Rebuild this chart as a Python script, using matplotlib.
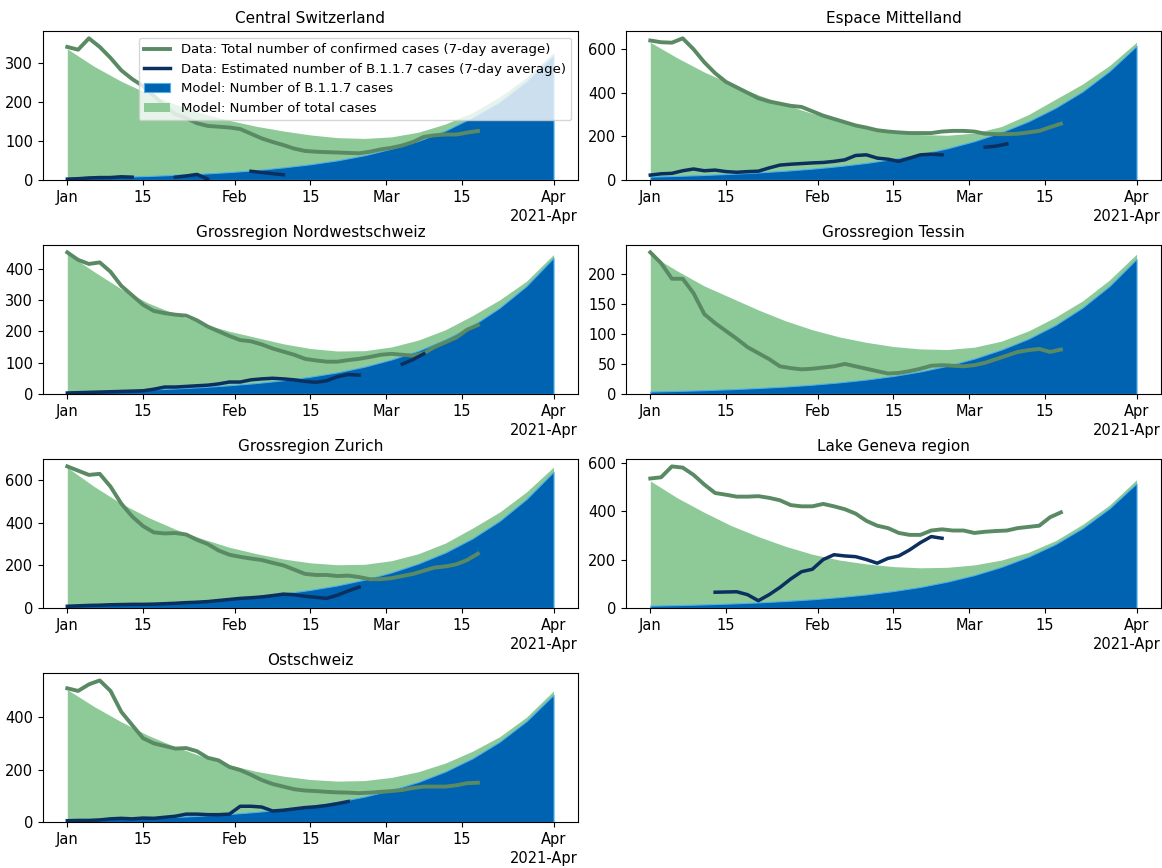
import numpy as np
import matplotlib
matplotlib.use("Agg")
import matplotlib.pyplot as plt
import matplotlib.dates as mdates

regions = ["Central Switzerland", "Espace Mittelland", "Grossregion Nordwestschweiz",
           "Grossregion Tessin", "Grossregion Zurich", "Lake Geneva region", "Ostschweiz"]

# days after 2021-01-01
data_days = list(range(0, 77, 2))
model_days = list(range(0, 91, 5))
nan = np.nan

# data: total confirmed cases (7-day average)
total_cs = [340, 333, 362, 340, 312, 280, 258, 240, 215, 190, 168, 158, 145, 138, 136, 134, 130, 118, 106, 97,
            89, 80, 74, 72, 71, 70, 69, 68, 72, 78, 82, 88, 97, 110, 114, 116, 116, 121, 125]
total_em = [640, 632, 630, 650, 600, 540, 490, 450, 425, 400, 375, 360, 350, 340, 335, 315, 295, 280, 265, 250,
            240, 228, 222, 218, 215, 215, 215, 222, 225, 225, 222, 212, 210, 210, 212, 218, 225, 242, 258]
total_nw = [452, 428, 415, 420, 390, 345, 315, 285, 265, 258, 253, 250, 235, 215, 200, 185, 172, 168, 158, 145,
            135, 125, 112, 107, 103, 103, 108, 112, 118, 125, 128, 125, 122, 130, 150, 165, 180, 205, 220]
total_ti = [236, 218, 192, 192, 168, 133, 118, 105, 92, 78, 68, 58, 46, 43, 41, 42, 44, 46, 50, 46,
            42, 38, 34, 35, 38, 42, 47, 48, 47, 46, 48, 52, 58, 64, 70, 73, 75, 70, 74]
total_zh = [665, 645, 625, 630, 570, 490, 430, 385, 355, 350, 352, 345, 320, 300, 270, 250, 240, 232, 225, 212,
            200, 180, 160, 155, 155, 150, 152, 145, 135, 135, 140, 150, 160, 175, 190, 195, 205, 225, 255]
total_ge = [535, 540, 585, 580, 550, 510, 475, 468, 460, 460, 462, 455, 445, 425, 420, 420, 430, 420, 408, 390,
            360, 340, 330, 310, 302, 302, 320, 325, 320, 320, 310, 315, 318, 320, 330, 335, 340, 375, 395]
total_os = [510, 500, 525, 540, 500, 420, 370, 320, 300, 290, 280, 282, 270, 245, 235, 210, 198, 180, 160, 145,
            135, 125, 120, 118, 115, 113, 112, 110, 112, 115, 118, 122, 130, 135, 135, 135, 140, 148, 150]

# data: estimated B.1.1.7 cases (7-day average)
b117_cs = [2, 3, 5, 6, 6, 8, 7, nan, nan, nan, 7, 10, 14, 2, nan, nan, nan, 22, 19, 16,
           13] + [nan] * 18
b117_em = [22, 28, 30, 42, 50, 42, 45, 38, 35, 38, 40, 55, 68, 72, 75, 78, 80, 85, 92, 112,
           115, 100, 95, 85, 100, 115, 118, 115, nan, nan, nan, 150, 155, 165] + [nan] * 5
b117_nw = [3, 4, 5, 6, 7, 8, 9, 10, 15, 22, 22, 24, 26, 28, 32, 38, 38, 45, 48, 50,
           48, 45, 40, 37, 42, 55, 62, 60, nan, nan, nan, 95, 110, 128] + [nan] * 5
b117_ti = [nan] * 39
b117_zh = [8, 10, 12, 13, 15, 16, 17, 17, 18, 20, 22, 25, 27, 30, 35, 40, 45, 48, 52, 58,
           65, 62, 55, 50, 45, 60, 80, 98] + [nan] * 11
b117_ge = [nan] * 6 + [65, 66, 67, 55, 30, 55, 85, 120, 150, 160, 200, 220, 215, 212, 200, 185,
                       205, 215, 240, 270, 295, 288] + [nan] * 11
b117_os = [5, 6, 6, 8, 12, 14, 12, 15, 14, 18, 22, 30, 30, 28, 28, 30, 60, 60, 57, 42,
           45, 50, 55, 58, 63, 70, 78] + [nan] * 12

# model: total cases
mtot_cs = [335, 290, 252, 220, 193, 170, 152, 137, 125, 115, 108, 106, 110, 122, 143, 172, 212, 262, 325]
mtot_em = [632, 560, 495, 440, 390, 345, 305, 272, 245, 222, 208, 205, 215, 245, 300, 370, 440, 525, 632]
mtot_nw = [448, 390, 335, 290, 255, 225, 200, 180, 160, 145, 137, 138, 150, 172, 205, 250, 300, 360, 445]
mtot_ti = [232, 205, 180, 160, 140, 122, 107, 95, 86, 79, 75, 74, 78, 88, 105, 128, 155, 190, 233]
mtot_zh = [660, 570, 490, 425, 370, 325, 285, 255, 230, 212, 203, 205, 222, 255, 305, 375, 450, 545, 662]
mtot_ge = [525, 455, 395, 340, 295, 255, 222, 198, 182, 171, 166, 168, 178, 198, 230, 278, 345, 425, 530]
mtot_os = [505, 440, 382, 330, 287, 250, 218, 193, 175, 162, 156, 158, 170, 192, 225, 270, 325, 400, 500]

# model: B.1.1.7 cases
mb_cs = [5, 6.5, 8, 10, 13, 16, 20, 25, 32, 40, 50, 63, 80, 100, 126, 160, 200, 253, 320]
mb_em = [15, 18.4, 22.7, 27.9, 34.2, 42.1, 51.7, 63.5, 78, 96, 118, 145, 178, 219, 269, 331, 406, 500, 615]
mb_nw = [7, 8.8, 11, 13.9, 17.5, 22, 27.7, 34.8, 43.8, 55, 69, 87, 110, 138, 174, 218, 275, 345, 435]
mb_ti = [4, 5, 6.3, 7.9, 9.9, 12.3, 15.4, 19.3, 24, 30, 37.5, 47, 59, 74, 92, 115, 144, 180, 225]
mb_zh = [11, 14, 17.7, 22, 27.7, 34.7, 43, 54, 68, 85, 106, 133, 167, 209, 261, 327, 409, 512, 640]
mb_ge = [9.5, 11.9, 14.8, 18.5, 23, 28.8, 36, 45, 56, 70, 87, 109, 136, 170, 212, 264, 330, 412, 515]
mb_os = [7.7, 9.7, 12.2, 15.3, 19.3, 24.3, 30.6, 38.5, 48.5, 61, 77, 97, 122, 153, 193, 243, 306, 385, 485]

totals = [total_cs, total_em, total_nw, total_ti, total_zh, total_ge, total_os]
b117s = [b117_cs, b117_em, b117_nw, b117_ti, b117_zh, b117_ge, b117_os]
mtots = [mtot_cs, mtot_em, mtot_nw, mtot_ti, mtot_zh, mtot_ge, mtot_os]
mbs = [mb_cs, mb_em, mb_nw, mb_ti, mb_zh, mb_ge, mb_os]

start = np.datetime64("2021-01-01")
t_data = start + np.array(data_days, dtype="timedelta64[D]")
t_model = start + np.array(model_days, dtype="timedelta64[D]")

green_fill = "#8dca98"
blue_fill = "#0063b2"
green_line = "#5a8a64"
navy_line = "#0b2f5e"

plt.rcParams["font.size"] = 10
plt.rcParams["xtick.labelsize"] = 10.5
plt.rcParams["ytick.labelsize"] = 10.5

fig, axes = plt.subplots(4, 2, figsize=(11.62, 8.68), dpi=100)
fig.subplots_adjust(left=0.037, right=0.999, bottom=0.053, top=0.964, wspace=0.09, hspace=0.44)
axes = axes.flatten()

for i, name in enumerate(regions):
    ax = axes[i]
    ax.fill_between(t_model, 0, mtots[i], color=green_fill, lw=0,
                    label="Model: Number of total cases")
    ax.fill_between(t_model, 0, mbs[i], facecolor=blue_fill, edgecolor="#4fb0e8", lw=0.8,
                    label="Model: Number of B.1.1.7 cases")
    ax.plot(t_data, totals[i], color=green_line, lw=2.8,
            label="Data: Total number of confirmed cases (7-day average)")
    ax.plot(t_data, b117s[i], color=navy_line, lw=2.5,
            label="Data: Estimated number of B.1.1.7 cases (7-day average)")
    ax.set_ylim(bottom=0)
    ax.set_title(name, fontsize=11)
    loc = mdates.AutoDateLocator()
    ax.xaxis.set_major_locator(loc)
    ax.xaxis.set_major_formatter(mdates.ConciseDateFormatter(loc))
    if i == 0:
        h, l = ax.get_legend_handles_labels()
        order = [2, 3, 1, 0]
        ax.legend([h[k] for k in order], [l[k] for k in order], loc="upper right", fontsize=9.5)

axes[7].axis("off")

fig.savefig("out.png", dpi=100)
